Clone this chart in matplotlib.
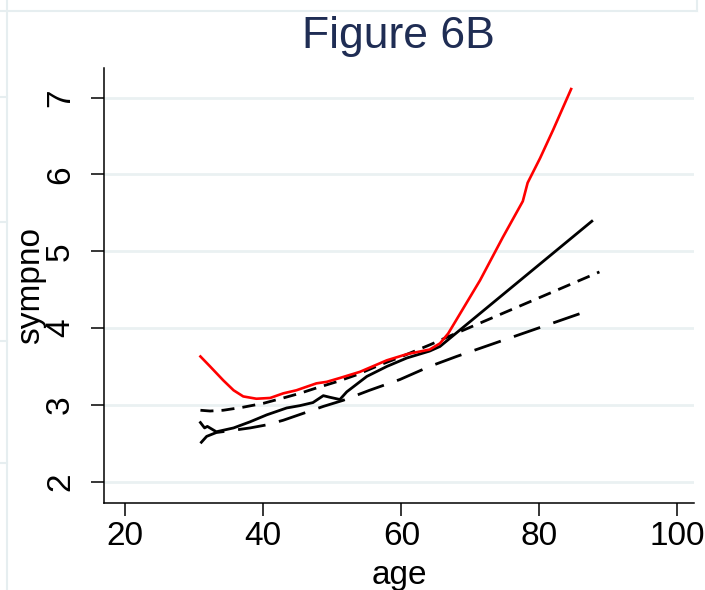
import numpy as np
import matplotlib
matplotlib.use("Agg")
import matplotlib.pyplot as plt
from matplotlib.lines import Line2D

plt.rcParams["font.family"] = ["Liberation Sans", "DejaVu Sans"]

# lowess of sympno on age, overall (red) and by group (black)
red_age = [30.9, 32.3, 34.2, 35.7, 37.1, 39.0, 41.0, 42.9, 44.8, 47.7, 49.2, 51.1,
           54.0, 57.9, 60.8, 64.1, 65.6, 66.8, 68.0, 71.4, 74.7, 77.6, 78.3, 80.1,
           82.0, 84.6]
red_y = [3.63, 3.50, 3.32, 3.19, 3.11, 3.08, 3.09, 3.15, 3.19, 3.28, 3.30, 3.35,
         3.43, 3.58, 3.66, 3.72, 3.80, 3.93, 4.11, 4.62, 5.18, 5.65, 5.89, 6.21,
         6.58, 7.11]

solid_age = [30.9, 31.5, 31.9, 33.2, 35.7, 38.1, 40.5, 43.4, 45.3, 47.2, 48.7, 49.6,
             51.1, 52.1, 55.0, 57.9, 60.8, 64.1, 65.6, 87.6]
solid_y = [2.77, 2.70, 2.72, 2.65, 2.70, 2.78, 2.87, 2.96, 2.99, 3.03, 3.12, 3.10,
           3.07, 3.17, 3.37, 3.50, 3.61, 3.70, 3.76, 5.39]

shortdash_age = [30.9, 32.3, 34.2, 37.1, 40.0, 42.9, 45.3, 47.7, 50.6, 53.5, 56.9,
                 59.8, 64.1, 66.6, 88.7]
shortdash_y = [2.93, 2.92, 2.93, 2.97, 3.02, 3.09, 3.15, 3.22, 3.30, 3.39, 3.52,
               3.62, 3.78, 3.88, 4.73]

longdash_age = [30.9, 31.8, 33.2, 35.7, 38.1, 40.5, 42.9, 45.8, 48.7, 51.6, 55.4,
                59.8, 64.1, 68.0, 86.6]
longdash_y = [2.50, 2.59, 2.64, 2.67, 2.70, 2.74, 2.80, 2.89, 2.98, 3.06, 3.19,
              3.33, 3.50, 3.63, 4.21]

xticks = [20, 40, 60, 80, 100]
yticks = [2, 3, 4, 5, 6, 7]

W, H = 705, 590
fig = plt.figure(figsize=(W / 100, H / 100), dpi=100)
ax = fig.add_axes([104 / W, (H - 502.7) / H, 590 / W, 434.4 / H])

ax.plot(longdash_age, longdash_y, color="black", lw=2.0, linestyle=(0, (10, 5)))
ax.plot(shortdash_age, shortdash_y, color="black", lw=2.0, linestyle=(0, (4.7, 2.9)))
ax.plot(solid_age, solid_y, color="black", lw=2.0)
ax.plot(red_age, red_y, color="#ff0000", lw=1.9)

ax.set_xlim(16.93, 102.4)
ax.set_ylim(1.727, 7.38)
ax.set_xticks(xticks)
ax.set_yticks(yticks)
ax.set_yticklabels([str(v) for v in yticks], rotation=90, va="center", ha="center")

ax.yaxis.grid(True, color="#eaf1f2", lw=2)
ax.set_axisbelow(True)
for s in ["top", "right"]:
    ax.spines[s].set_visible(False)
for s in ["left", "bottom"]:
    ax.spines[s].set_linewidth(1.1)
ax.tick_params(axis="both", length=9.4, width=1.1, labelsize=24, colors="black")
ax.tick_params(axis="x", pad=4)
ax.tick_params(axis="y", pad=22)

ax.set_xlabel("age", fontsize=24)
ax.xaxis.label.set_va("baseline")
ax.xaxis.set_label_coords(0.5, -0.187)
ax.set_ylabel("sympno", fontsize=24)
ax.yaxis.label.set_va("center")
ax.yaxis.set_label_coords(-0.124, 0.5)

fig.text(398 / W, (H - 48) / H, "Figure 6B", fontsize=32, color="#1f2d54",
         ha="center", va="baseline")

# frame of the surrounding graph panel
light = "#e6eef0"
fig.add_artist(Line2D([0, 697 / W], [(H - 10.7) / H] * 2, color=light, lw=1.5))
fig.add_artist(Line2D([7 / W] * 2, [0, 1], color=light, lw=1.5))
fig.add_artist(Line2D([697 / W] * 2, [(H - 10.7) / H, 1], color=light, lw=1.5))
for yy in [97, 222, 341, 463]:
    fig.add_artist(Line2D([0, 7 / W], [(H - yy) / H] * 2, color=light, lw=1.5))

fig.savefig("out.png", dpi=100)
